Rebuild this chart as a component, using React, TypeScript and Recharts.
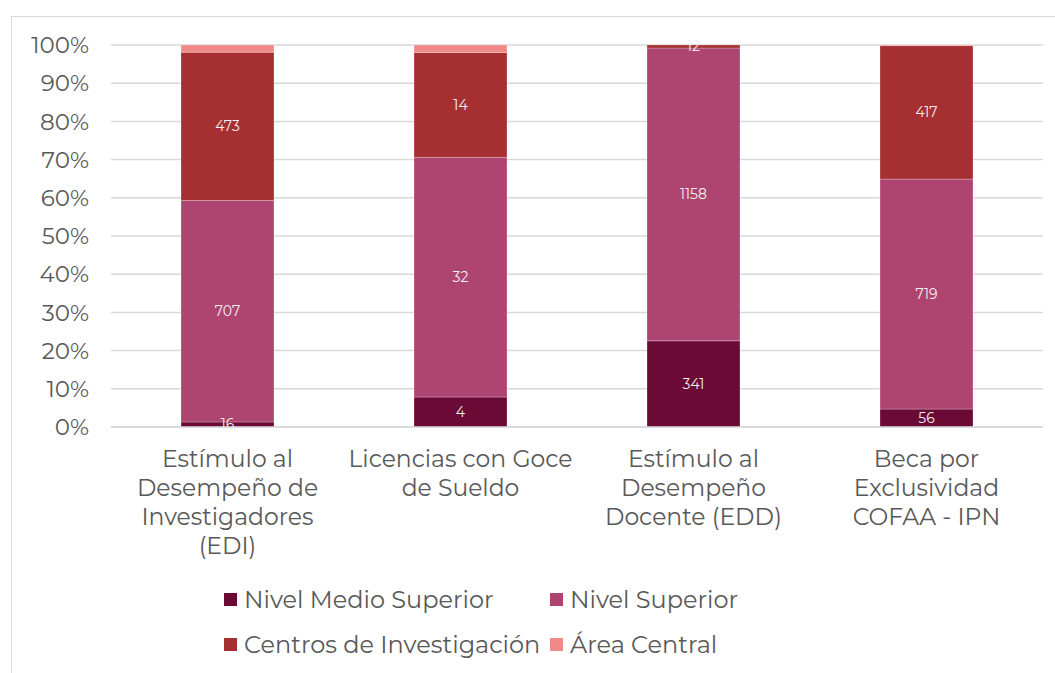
import { Bar, BarChart, CartesianGrid, LabelList, XAxis, YAxis } from "recharts";

const categories = [
  "Estímulo al\nDesempeño de\nInvestigadores\n(EDI)",
  "Licencias con Goce\nde Sueldo",
  "Estímulo al\nDesempeño\nDocente (EDD)",
  "Beca por\nExclusividad\nCOFAA - IPN",
];
const nivelMedioSuperior = [16, 4, 341, 56];
const nivelSuperior = [707, 32, 1158, 719];
const centrosInvestigacion = [473, 14, 12, 417];
const areaCentral = [23, 1, 0, 2];
const yTicks = [0, 0.1, 0.2, 0.3, 0.4, 0.5, 0.6, 0.7, 0.8, 0.9, 1];

const series = [
  { key: "nms", name: "Nivel Medio Superior", color: "#6b0a34", label: true },
  { key: "ns", name: "Nivel Superior", color: "#ae4570", label: true },
  { key: "ci", name: "Centros de Investigación", color: "#a52f31", label: true },
  { key: "ac", name: "Área Central", color: "#f08a88", label: false },
];

const data = categories.map((name, i) => ({
  name,
  nms: nivelMedioSuperior[i],
  ns: nivelSuperior[i],
  ci: centrosInvestigacion[i],
  ac: areaCentral[i],
}));

const FONT = "Montserrat, 'Open Sans', sans-serif";
const TEXT = "#595959";

function CategoryTick({ x, y, payload }: any) {
  const lines = String(payload.value).split("\n");
  return (
    <text x={x} y={y} textAnchor="middle" fill={TEXT} fontSize={23.5} fontFamily={FONT}>
      {lines.map((line, i) => (
        <tspan key={i} x={x} dy={i === 0 ? 32 : 29}>
          {line}
        </tspan>
      ))}
    </text>
  );
}

export default function App() {
  return (
    <div
      style={{
        position: "absolute",
        left: 0,
        top: 0,
        width: 1055,
        height: 673,
        overflow: "hidden",
        background: "#fff",
        fontFamily: FONT,
      }}
    >
      <div
        style={{
          position: "absolute",
          left: 11,
          top: 16,
          width: 1100,
          height: 700,
          border: "1.5px solid #d9d9d9",
        }}
      />
      <div style={{ position: "absolute", left: 0, top: 0 }}>
        <BarChart
          width={1055}
          height={560}
          data={data}
          stackOffset="expand"
          margin={{ top: 45, right: 12, left: 20, bottom: 103 }}
        >
          <CartesianGrid vertical={false} stroke="#d9d9d9" strokeWidth={1.5} />
          <XAxis
            dataKey="name"
            tick={<CategoryTick />}
            tickLine={false}
            axisLine={{ stroke: "#d9d9d9", strokeWidth: 1.5 }}
            interval={0}
          />
          <YAxis
            width={91}
            domain={[0, 1]}
            ticks={yTicks}
            tickFormatter={(v: number) => `${Math.round(v * 100)}%`}
            tick={{ fontSize: 23, fill: TEXT, fontFamily: FONT }}
            tickLine={false}
            axisLine={false}
            tickMargin={16}
          />
          {series.map((s) => (
            <Bar
              key={s.key}
              dataKey={s.key}
              name={s.name}
              stackId="a"
              fill={s.color}
              stroke="#ffffff"
              strokeOpacity={0.25}
              barSize={93}
              isAnimationActive={false}
            >
              {s.label && (
                <LabelList
                  dataKey={s.key}
                  position="center"
                  fill="#f2f2f2"
                  fontSize={14}
                  fontFamily={FONT}
                />
              )}
            </Bar>
          ))}
        </BarChart>
      </div>
      <div
        style={{
          position: "absolute",
          left: 224,
          top: 584,
          display: "grid",
          gridTemplateColumns: "326px 260px",
          rowGap: 15,
          fontSize: 24,
          color: TEXT,
        }}
      >
        {series.map((s) => (
          <div key={s.key} style={{ display: "flex", alignItems: "center", height: 30 }}>
            <span
              style={{
                width: 13,
                height: 13,
                background: s.color,
                marginRight: 7,
                display: "inline-block",
              }}
            />
            {s.name}
          </div>
        ))}
      </div>
    </div>
  );
}
